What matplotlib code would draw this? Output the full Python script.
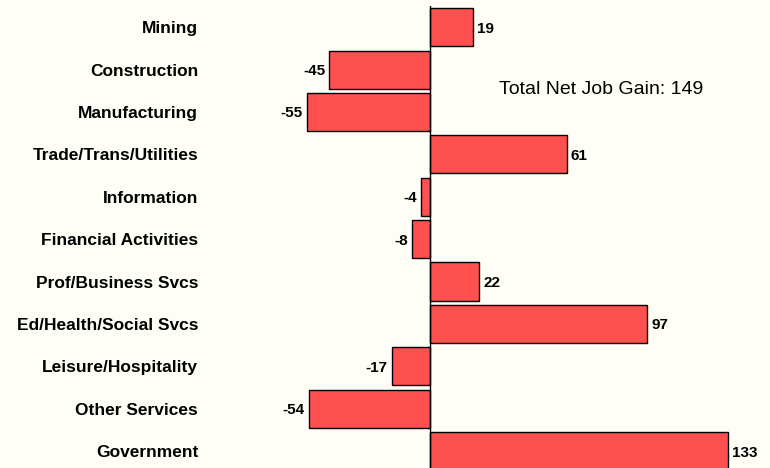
import matplotlib
matplotlib.use("Agg")
import matplotlib.pyplot as plt

sectors = ["Mining", "Construction", "Manufacturing", "Trade/Trans/Utilities",
           "Information", "Financial Activities", "Prof/Business Svcs",
           "Ed/Health/Social Svcs", "Leisure/Hospitality", "Other Services",
           "Government"]
job_change = [19, -45, -55, 61, -4, -8, 22, 97, -17, -54, 133]
total_gain = 149

bg = "#fffef6"
plt.rcParams["font.family"] = ["Liberation Sans", "DejaVu Sans"]

fig = plt.figure(figsize=(7.7, 4.68), dpi=100, facecolor=bg)
ax = fig.add_axes([210 / 770, 0, 560 / 770, 462 / 468], facecolor=bg)

pos = list(range(len(sectors)))
ax.barh(pos, job_change, height=0.9, color="#ff5050", edgecolor="black", linewidth=1)
ax.axvline(0, color="black", linewidth=1)

for p, v in zip(pos, job_change):
    off = 3 if v >= 0 else -3
    ax.annotate(str(v), (v, p), xytext=(off, 0), textcoords="offset points",
                ha="left" if v >= 0 else "right", va="center_baseline",
                fontsize=11, fontweight="bold")

ax.set_xlim(-220 / 2.24, 340 / 2.24)
ax.set_ylim(10.4, -0.5)
ax.set_yticks(pos)
ax.set_yticklabels(sectors, fontsize=12.5, fontweight="bold")
ax.tick_params(axis="y", length=0, pad=8.5)
ax.set_xticks([])
for s in ax.spines.values():
    s.set_visible(False)

ax.text(30.8, 1.48, f"Total Net Job Gain: {total_gain}", fontsize=14,
        ha="left", va="center")

fig.savefig("out.png", dpi=100, facecolor=bg)
